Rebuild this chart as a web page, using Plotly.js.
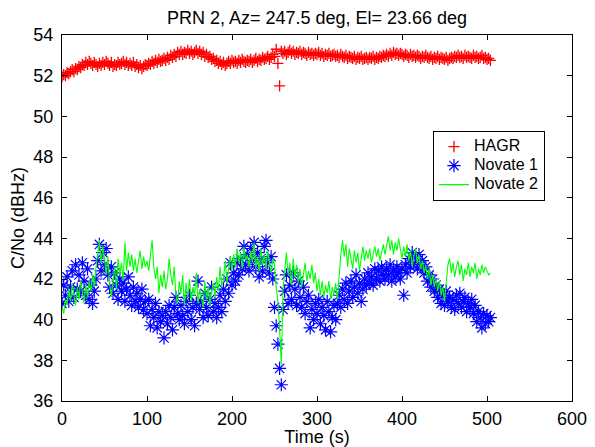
<!DOCTYPE html>
<html>
<head>
<meta charset="utf-8">
<script src="https://cdn.plot.ly/plotly-3.0.1.min.js"></script>
<style>html,body{margin:0;padding:0;background:#fff;}#chart{width:595px;height:447px;}</style>
</head>
<body>
<div id="chart"></div>
<script>
// Sample times (s)
var timeS = [
0,2,4,6,8,10,12,14,16,18, 20,22,24,26,28,30,32,34,36,38,
40,42,44,46,48,50,52,54,56,58, 60,62,64,66,68,70,72,74,76,78,
80,82,84,86,88,90,92,94,96,98, 100,102,104,106,108,110,112,114,116,118,
120,122,124,126,128,130,132,134,136,138, 140,142,144,146,148,150,152,154,156,158,
160,162,164,166,168,170,172,174,176,178, 180,182,184,186,188,190,192,194,196,198,
200,202,204,206,208,210,212,214,216,218, 220,222,224,226,228,230,232,234,236,238,
240,242,244,246,248,250,252,254,256,258, 260,262,264,266,268,270,272,274,276,278,
280,282,284,286,288,290,292,294,296,298, 300,302,304,306,308,310,312,314,316,318,
320,322,324,326,328,330,332,334,336,338, 340,342,344,346,348,350,352,354,356,358,
360,362,364,366,368,370,372,374,376,378, 380,382,384,386,388,390,392,394,396,398,
400,402,404,406,408,410,412,414,416,418, 420,422,424,426,428,430,432,434,436,438,
440,442,444,446,448,450,452,454,456,458, 460,462,464,466,468,470,472,474,476,478,
480,482,484,486,488,490,492,494,496,498, 500,502,504];

var hagr = [
51.95,52.05,52.0,52.15,52.1,52.2,52.3,52.2,52.35,52.3,
52.45,52.4,52.55,52.5,52.65,52.55,52.7,52.6,52.5,52.65,
52.55,52.45,52.6,52.5,52.65,52.55,52.7,52.6,52.5,52.65,
52.45,52.55,52.5,52.65,52.55,52.6,52.7,52.55,52.65,52.5,
52.6,52.5,52.65,52.45,52.55,52.4,52.5,52.35,52.45,52.55,
52.5,52.6,52.55,52.7,52.6,52.75,52.65,52.8,52.7,52.75,
52.85,52.75,52.9,52.8,53.0,52.9,53.05,52.95,53.15,53.05,
53.2,53.05,53.15,53.1,53.25,53.1,53.2,53.05,53.15,53.25,
53.1,53.2,53.05,53.15,52.95,53.05,52.9,52.95,52.8,52.85,
52.7,52.75,52.6,52.7,52.55,52.65,52.5,52.6,52.7,52.6,
52.75,52.65,52.7,52.6,52.75,52.65,52.8,52.7,52.65,52.75,
52.7,52.8,52.65,52.75,52.85,52.7,52.8,52.75,52.9,52.8,
52.85,52.95,52.8,52.9,53.05,52.95,53.3,52.6,51.5,53.2,
53.1,53.2,53.05,53.15,53.25,53.1,53.2,53.05,53.15,53.1,
53.2,53.05,53.15,53.1,53.0,53.15,53.05,53.1,53.0,53.1,
53.05,53.15,53.0,53.1,52.95,53.05,53.0,53.1,52.95,53.0,
53.05,52.95,53.0,52.9,53.05,52.95,52.9,53.0,52.85,52.95,
52.9,52.85,52.95,52.8,52.9,52.85,52.95,52.8,52.85,52.9,
52.8,52.9,52.85,52.95,52.8,52.9,52.85,52.95,52.9,53.0,
52.95,53.05,52.95,53.1,53.0,53.15,53.05,53.1,53.0,53.1,
53.05,52.95,53.05,53.0,52.9,53.05,52.95,53.0,52.9,53.0,
52.95,52.85,52.95,52.9,53.0,52.9,52.85,52.95,52.8,52.9,
52.85,52.95,52.8,52.9,52.85,52.8,52.9,52.75,52.85,52.9,
52.85,52.95,52.9,53.0,52.9,52.95,52.85,53.0,52.9,52.95,
52.9,52.85,53.0,52.9,52.95,52.85,52.9,53.0,52.85,52.9,
52.8,52.85,52.75];

var novate1 = [
40.8,41.7,41.2,42.1,40.9,41.6,42.4,41.1,42.7,41.5,
42.2,41.4,42.8,41.9,41.2,42.5,41.0,41.7,40.8,41.4,
42.0,42.9,43.7,42.4,43.3,42.7,43.5,42.2,41.6,42.6,
41.3,42.3,41.7,41.0,42.0,41.4,41.8,40.9,41.5,42.1,
41.2,40.7,41.6,40.9,41.3,40.6,41.0,41.5,40.5,40.9,
40.3,41.0,39.7,40.5,40.1,40.8,39.6,40.4,39.9,40.2,
39.1,40.4,39.8,40.7,40.1,39.5,40.6,41.1,40.3,40.0,
40.7,40.2,39.8,40.9,40.4,41.2,40.0,40.6,39.7,40.8,
41.9,40.5,40.9,40.1,41.3,40.6,40.2,41.0,41.6,40.4,
40.8,40.1,40.6,41.2,40.4,41.5,40.9,42.0,41.3,42.8,
41.7,42.3,41.9,42.8,42.2,43.0,42.5,43.6,42.7,43.2,
42.4,43.5,42.9,43.8,42.6,43.3,42.1,43.0,42.4,43.6,
43.9,42.8,42.3,43.1,42.0,40.6,39.7,38.8,37.6,36.8,
40.5,41.4,42.2,40.8,41.7,41.0,42.3,41.5,40.7,41.9,
41.1,40.6,41.6,40.3,40.9,41.2,39.6,40.5,40.0,40.8,
40.3,41.0,39.8,40.6,40.2,39.5,40.9,40.4,39.4,40.1,
40.7,40.0,40.8,41.2,40.6,41.5,41.0,41.8,40.8,41.4,
41.9,41.1,41.6,42.2,41.3,41.8,40.9,41.5,42.0,41.7,
42.3,41.8,42.1,41.7,42.5,42.0,42.4,41.9,42.6,42.2,
42.0,42.5,42.2,42.7,41.9,42.4,42.1,42.6,42.3,42.0,
42.5,41.2,42.7,42.3,43.0,42.6,43.3,42.8,43.1,42.5,
43.2,42.7,42.9,42.3,42.6,41.9,42.2,41.6,42.0,41.4,
41.7,41.1,41.5,40.8,41.2,40.7,41.4,40.9,41.1,40.6,
41.0,40.5,41.2,40.8,41.3,40.6,40.9,41.1,40.4,40.8,
40.6,41.0,40.3,40.7,39.9,40.4,40.1,39.6,40.3,39.8,
40.2,39.9,40.1];

var novate2 = [
40.6,40.3,41.0,40.7,41.5,40.9,41.8,41.2,40.7,41.6,
41.0,41.9,41.3,40.8,41.7,41.1,41.9,41.4,42.2,41.6,
42.6,43.3,43.9,42.8,43.6,43.0,42.2,43.1,41.8,41.1,
41.9,42.6,41.5,43.0,42.2,42.8,41.9,43.8,42.4,43.3,
42.6,43.2,42.4,43.0,42.3,42.9,43.4,42.5,43.1,42.6,
42.9,42.4,43.2,43.9,42.6,42.0,42.6,41.3,42.2,41.6,
42.4,41.5,42.0,43.0,42.2,41.7,42.6,41.2,40.8,41.9,
41.3,42.2,40.7,41.8,41.1,42.0,40.9,41.6,41.2,42.3,
40.8,41.5,41.1,40.6,41.9,41.0,41.6,40.7,41.4,41.8,
41.1,42.1,41.4,42.6,41.6,42.0,42.9,41.8,42.5,43.1,
42.4,43.2,42.6,43.5,42.8,43.3,42.5,43.6,42.9,43.2,
42.6,43.4,42.8,43.8,42.5,43.1,42.4,43.5,42.7,43.2,
42.5,43.4,42.8,42.3,43.0,42.7,41.6,40.9,39.5,37.8,
41.5,42.6,43.3,42.2,42.8,41.7,43.0,42.1,42.7,41.8,
42.5,41.6,42.2,42.8,41.9,42.4,42.0,42.7,41.8,42.3,
41.4,42.0,41.2,41.9,41.1,41.7,41.3,41.9,41.0,41.6,
41.2,41.8,41.0,42.4,43.2,43.9,43.1,43.7,42.6,43.5,
43.0,42.5,43.4,42.8,43.3,42.4,43.0,43.6,42.9,43.4,
43.0,43.5,42.8,43.3,43.6,43.1,43.5,42.9,43.4,43.7,
43.2,43.6,44.1,43.4,43.9,43.2,43.8,43.4,44.0,43.5,
43.0,43.6,43.1,43.7,42.9,43.4,42.6,43.1,43.5,42.8,
43.2,42.5,42.9,42.3,42.7,42.0,42.5,41.7,42.2,41.6,
42.0,41.4,41.9,41.2,41.6,40.9,42.0,42.7,43.0,42.3,
42.8,42.1,42.6,42.9,42.2,42.7,41.9,42.5,42.2,42.8,
42.1,42.6,42.3,42.8,42.0,42.5,42.2,42.7,42.3,42.6,
42.4,42.2,42.3];

var seriesNames = ["HAGR", "Novate 1", "Novate 2"];
var xTicks = [0,100,200,300,400,500,600];
var yTicks = [36,38,40,42,44,46,48,50,52,54];

var FONT = "Liberation Sans, Arial, Helvetica, sans-serif";
var FS = 18;

function legendLabel(s) { return '<span style="font-size:16px">' + s + '</span>'; }

var traces = [
  {x: timeS, y: hagr, name: legendLabel(seriesNames[0]), type: "scatter", mode: "markers",
   marker: {symbol: "cross-thin", size: 8, color: "#ff0000", line: {color: "#ff0000", width: 1.3}}},
  {x: timeS, y: novate1, name: legendLabel(seriesNames[1]), type: "scatter", mode: "markers",
   marker: {symbol: "asterisk", size: 11, color: "#0000ff", line: {color: "#0000ff", width: 1.2}}},
  {x: timeS, y: novate2, name: legendLabel(seriesNames[2]), type: "scatter", mode: "lines",
   line: {color: "#00ff00", width: 1.1}}
];

var axisCommon = {
  showline: true, mirror: "ticks", linecolor: "#000", linewidth: 1,
  ticks: "inside", ticklen: 5, tickwidth: 1, tickcolor: "#000",
  showgrid: false, zeroline: false,
  tickfont: {family: FONT, size: FS, color: "#000"}
};

var layout = {
  width: 595, height: 447,
  margin: {l: 62, r: 23, t: 35, b: 46, pad: 0},
  paper_bgcolor: "#fff", plot_bgcolor: "#fff",
  font: {family: FONT, size: FS, color: "#000"},
  title: {text: "PRN 2, Az= 247.5 deg, El= 23.66 deg", font: {family: FONT, size: FS, color: "#000"},
          x: 0.5, xref: "paper", xanchor: "center", y: 0.96, yref: "container", yanchor: "middle"},
  xaxis: Object.assign({}, axisCommon, {
    range: [0, 600], tickvals: xTicks, ticktext: xTicks.map(String),
    ticklabelstandoff: 1,
    title: {text: "Time (s)", font: {family: FONT, size: FS, color: "#000"}, standoff: 0}
  }),
  yaxis: Object.assign({}, axisCommon, {
    range: [36, 54], tickvals: yTicks, ticktext: yTicks.map(String),
    ticklabelstandoff: 4,
    title: {text: "C/No (dBHz)", font: {family: FONT, size: FS, color: "#000"}, standoff: 4}
  }),
  showlegend: true,
  legend: {x: 0.727, y: 0.738, xanchor: "left", yanchor: "top",
           bgcolor: "#fff", bordercolor: "#000", borderwidth: 1.2,
           font: {family: FONT, size: 12, color: "#000"}, tracegroupgap: 0, itemwidth: 30}
};

Plotly.newPlot("chart", traces, layout, {displayModeBar: false, staticPlot: true});
</script>
</body>
</html>
